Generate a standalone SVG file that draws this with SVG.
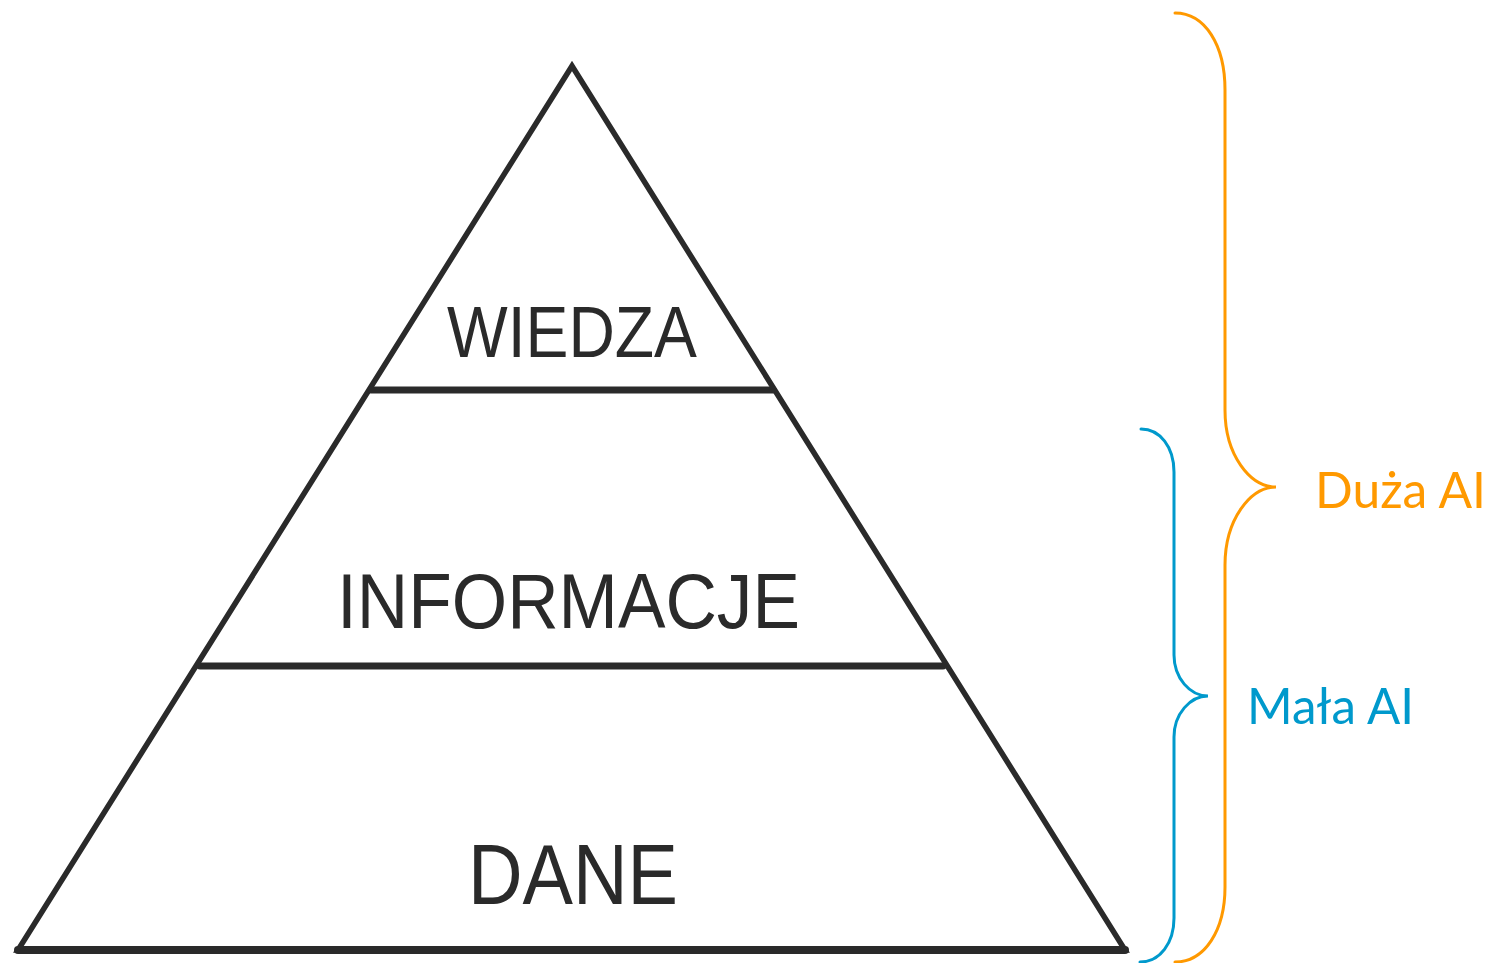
<svg xmlns="http://www.w3.org/2000/svg" width="1497" height="963" viewBox="0 0 1497 963">
<style>
.edge{fill:none;stroke:#2a2a2a;stroke-linejoin:miter;stroke-linecap:round}
.lbl{font-family:"Liberation Sans",Arial,sans-serif;fill:#2a2a2a;text-anchor:start}
.brace{fill:none;stroke-width:3;stroke-linecap:round}
.ai{font-family:Lato,"Open Sans",sans-serif;font-size:51px}
</style>
<rect width="1497" height="963" fill="#ffffff"/>
<g id="pyramid">
<path class="edge" d="M572,66 L18,950 L1125,950 Z" stroke-width="5.5"/>
<line class="edge" x1="18" y1="950" x2="1125" y2="950" stroke-width="8"/>
</g>
<g id="wiedza">
<line class="edge" x1="371" y1="390" x2="773" y2="390" stroke-width="7"/>
<text class="lbl" x="447" y="357" font-size="72" textLength="250" lengthAdjust="spacingAndGlyphs">WIEDZA</text>
</g>
<g id="informacje">
<line class="edge" x1="200" y1="666" x2="943" y2="666" stroke-width="7"/>
<text class="lbl" x="337" y="628" font-size="78" textLength="463" lengthAdjust="spacingAndGlyphs">INFORMACJE</text>
</g>
<g id="dane">
<text class="lbl" x="468" y="904" font-size="85" textLength="210" lengthAdjust="spacingAndGlyphs">DANE</text>
</g>
<g id="connectors">
<path class="brace" stroke="#ff9900" d="M1175,13 C1205,13 1225,45 1225,90 L1225,410 C1225,455 1250,487 1276,487 C1250,487 1225,520 1225,565 L1225,887 C1225,930 1205,962 1175,962"/>
<path class="brace" stroke="#0099cc" d="M1141,429 C1160,429 1174,447 1174,472 L1174,655 C1174,678 1190,696 1208,696 C1190,696 1174,714 1174,737 L1174,918 C1174,943 1160,962 1140,962"/>
</g>
<g id="duza-ai">
<text class="ai" x="1315" y="508" fill="#ff9900" textLength="171" lengthAdjust="spacingAndGlyphs">Duża AI</text>
</g>
<g id="mala-ai">
<text class="ai" x="1247" y="724" fill="#0099cc" textLength="167" lengthAdjust="spacingAndGlyphs">Mała AI</text>
</g>
</svg>
